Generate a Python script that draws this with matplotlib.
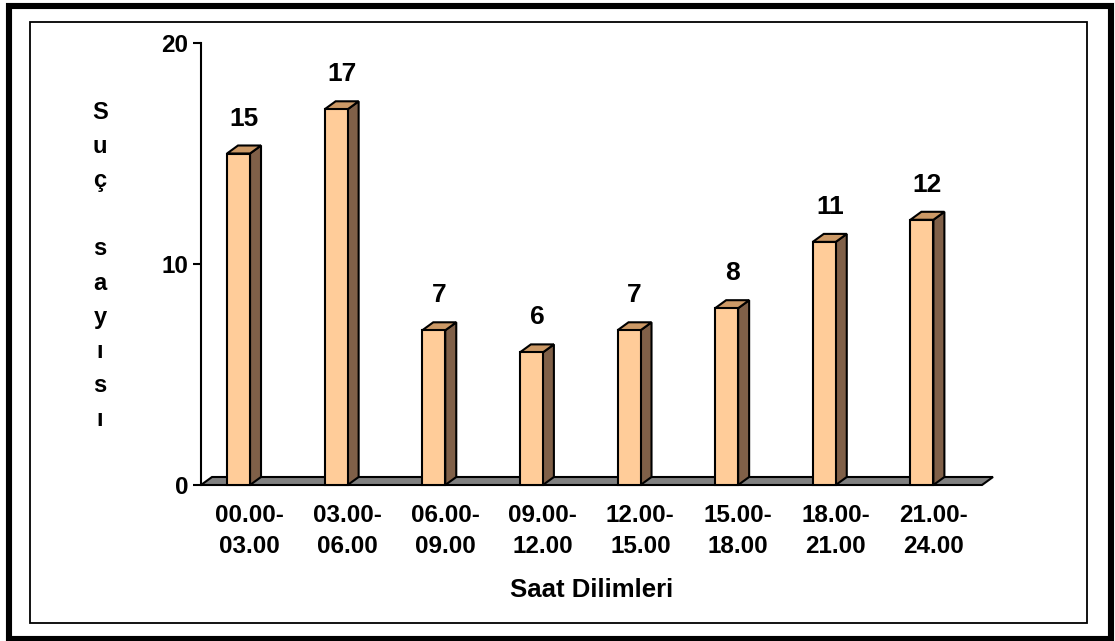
import matplotlib
matplotlib.use("Agg")
import matplotlib.pyplot as plt
from matplotlib.patches import Polygon, Rectangle

plt.rcParams['font.family'] = ['Liberation Sans', 'DejaVu Sans']
plt.rcParams['font.weight'] = 'bold'

# veriler
saat_dilimleri = ["00.00-\n03.00", "03.00-\n06.00", "06.00-\n09.00", "09.00-\n12.00",
                  "12.00-\n15.00", "15.00-\n18.00", "18.00-\n21.00", "21.00-\n24.00"]
suc_sayisi = [15, 17, 7, 6, 7, 8, 11, 12]
y_ticks = [0, 10, 20]

# renkler
on_renk = '#FFCC99'
yan_renk = '#806048'
ust_renk = '#CC9966'
zemin_renk = '#808080'

W, H = 1115, 641
fig = plt.figure(figsize=(W / 100, H / 100), dpi=100)

# eksen: x 0..8 kategori, y 0..20
ax = fig.add_axes([201 / W, 1 - 485 / H, (982 - 201) / W, (485 - 43) / H])
n = len(suc_sayisi)
ax.set_xlim(0, n)
ax.set_ylim(0, 20)

# 3B derinlik (veri biriminde)
dx = 11 / 97.6
dy = 8 / 22.1
bar_off = 26 / 97.6
bar_w = 23 / 97.6

# zemin
zemin = Polygon([(0, 0), (n, 0), (n + dx, dy), (dx, dy)], closed=True,
                facecolor=zemin_renk, edgecolor='black', lw=1.5, clip_on=False, zorder=1)
ax.add_patch(zemin)

for i, v in enumerate(suc_sayisi):
    x0 = i + bar_off
    x1 = x0 + bar_w
    # yan yuz
    ax.add_patch(Polygon([(x1, 0), (x1 + dx, dy), (x1 + dx, v + dy), (x1, v)],
                         facecolor=yan_renk, edgecolor='black', lw=1.5, zorder=2, clip_on=False))
    # ust yuz
    ax.add_patch(Polygon([(x0, v), (x1, v), (x1 + dx, v + dy), (x0 + dx, v + dy)],
                         facecolor=ust_renk, edgecolor='black', lw=1.5, zorder=2, clip_on=False))
    # on yuz
    ax.add_patch(Rectangle((x0, 0), bar_w, v, facecolor=on_renk, edgecolor='black',
                           lw=1.5, zorder=3, clip_on=False))
    ax.text(x0 + bar_w / 2 + dx / 2, v + 1.58, str(v), ha='center', va='center',
            fontsize=19, fontweight='bold')

for s in ['top', 'right', 'bottom']:
    ax.spines[s].set_visible(False)
ax.spines['left'].set_linewidth(1.5)

ax.set_yticks(y_ticks)
ax.set_yticklabels([str(t) for t in y_ticks], fontsize=17.5, fontweight='bold')
ax.tick_params(axis='y', length=6, width=1.5, pad=3)

ax.set_xticks([i + 0.5 for i in range(n)])
ax.set_xticklabels(saat_dilimleri, fontsize=17.5, fontweight='bold')
ax.tick_params(axis='x', length=0, pad=14)
plt.setp(ax.get_xticklabels(), linespacing=1.42)

fig.text(592 / W, 1 - 590 / H, "Saat Dilimleri", ha='center', va='center',
         fontsize=18.5, fontweight='bold')
fig.text(100 / W, 1 - 266 / H, "S\nu\nç\n\ns\na\ny\nı\ns\nı", ha='center', va='center',
         fontsize=17, fontweight='bold', linespacing=1.62)

# cerceveler
fig.add_artist(Rectangle((9 / W, 2 / H), (1111 - 9) / W, (635 - 2) / H, transform=fig.transFigure,
                         fill=False, edgecolor='black', lw=4.4))
fig.add_artist(Rectangle((30 / W, 1 - 623 / H), (1087 - 30) / W, (623 - 22) / H,
                         transform=fig.transFigure, fill=False, edgecolor='black', lw=1.3))

fig.savefig("out.png", dpi=100)
